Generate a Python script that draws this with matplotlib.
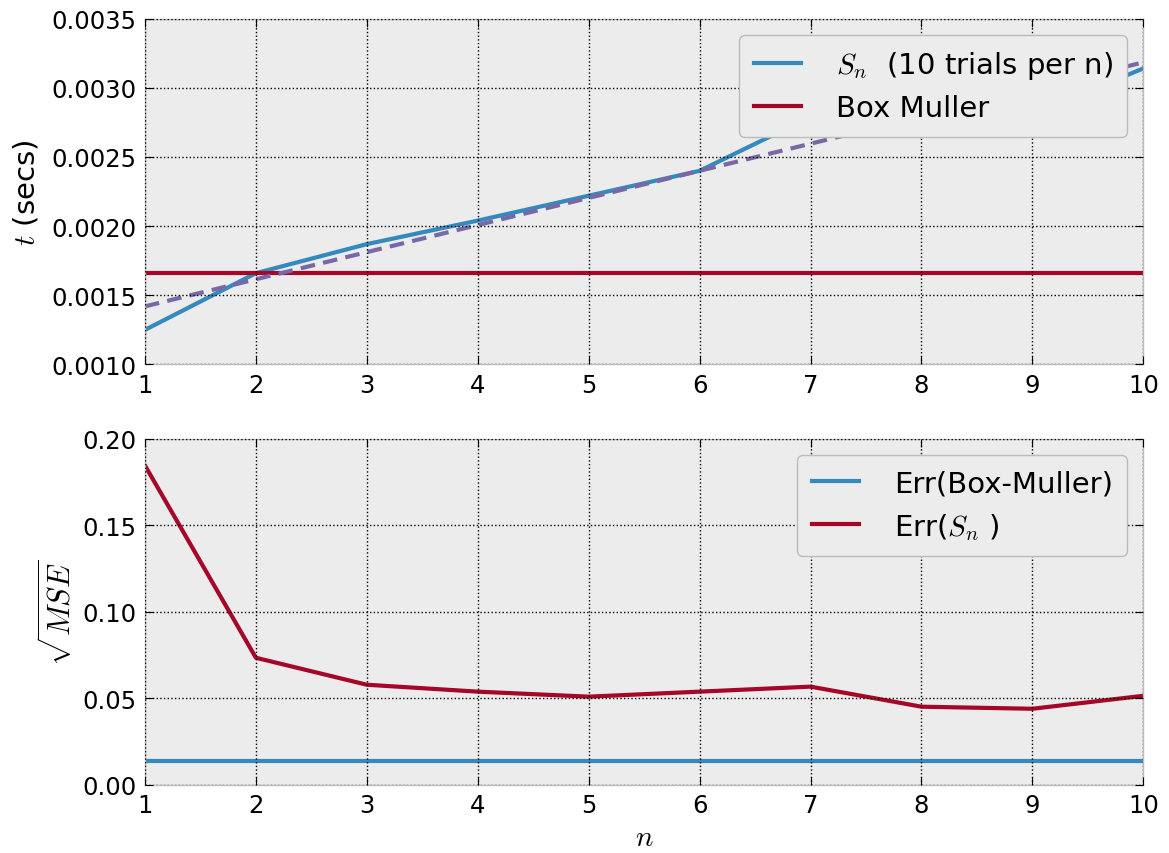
import matplotlib
matplotlib.use("Agg")
import matplotlib.pyplot as plt
import numpy as np

# ---- data ----
n = np.arange(1, 11)
sn_time = [0.00125, 0.00166, 0.00187, 0.00204, 0.00222,
           0.00240, 0.00279, 0.00284, 0.00281, 0.00314]
box_muller_time = 0.00166
err_box_muller = 0.0135
err_sn = [0.1846, 0.0734, 0.0578, 0.0538, 0.0509,
          0.0538, 0.0567, 0.0451, 0.0439, 0.0514]

plt.rcParams.update({
    "mathtext.fontset": "cm",
    "font.size": 17.5,
    "axes.facecolor": "#ECECEC",
    "axes.edgecolor": "#bcbcbc",
    "axes.linewidth": 1.0,
    "xtick.direction": "in",
    "ytick.direction": "in",
    "xtick.top": True,
    "ytick.right": True,
    "xtick.major.size": 6,
    "ytick.major.size": 6,
    "xtick.major.pad": 6,
    "ytick.major.pad": 6,
    "legend.fancybox": True,
})

blue = "#348ABD"
red = "#A60628"
purple = "#7A68A6"

leg_kw = dict(loc="upper right", fontsize=21, handlelength=1.6,
              handletextpad=1.2, borderpad=0.5, labelspacing=0.45,
              borderaxespad=0.55, framealpha=1.0, facecolor="#ECECEC")

fig, (ax1, ax2) = plt.subplots(2, 1, figsize=(11.69, 8.54), dpi=100)
fig.subplots_adjust(left=0.124, right=0.978, top=0.977, bottom=0.08,
                    hspace=0.215)

# top panel: timings
ax1.plot(n, sn_time, color=blue, lw=3, label=r"$S_n$  (10 trials per n)")
ax1.plot(n, [box_muller_time] * len(n), color=red, lw=3, label="Box Muller")
coef = np.polyfit(n, sn_time, 1)
ax1.plot(n, np.polyval(coef, n), color=purple, lw=3, ls="--", dashes=(3.5, 2))
ax1.set_xlim(1, 10)
ax1.set_ylim(0.0010, 0.0035)
ax1.set_yticks(np.arange(0.0010, 0.00351, 0.0005))
ax1.set_yticklabels([f"{v:.4f}" for v in np.arange(0.0010, 0.00351, 0.0005)])
ax1.set_ylabel(r"$t$ (secs)", fontsize=21, labelpad=8)
ax1.grid(True, color="black", linestyle=":", linewidth=1)
leg1 = ax1.legend(**leg_kw)
leg1.get_frame().set_edgecolor("#bbbbbb")

# bottom panel: errors
ax2.plot(n, [err_box_muller] * len(n), color=blue, lw=3,
         label="Err(Box-Muller)")
ax2.plot(n, err_sn, color=red, lw=3, label=r"Err($S_n$ )")
ax2.set_xlim(1, 10)
ax2.set_ylim(0, 0.20)
ax2.set_yticks(np.arange(0, 0.201, 0.05))
ax2.set_yticklabels([f"{v:.2f}" for v in np.arange(0, 0.201, 0.05)])
ax2.set_xlabel(r"$n$", fontsize=21)
ax2.set_ylabel(r"$\sqrt{MSE}$", fontsize=22)
ax2.grid(True, color="black", linestyle=":", linewidth=1)
leg2 = ax2.legend(**leg_kw)
leg2.get_frame().set_edgecolor("#bbbbbb")

for ax in (ax1, ax2):
    ax.set_xticks(n)
    ax.set_axisbelow(False)

fig.savefig("out.png", dpi=100)
